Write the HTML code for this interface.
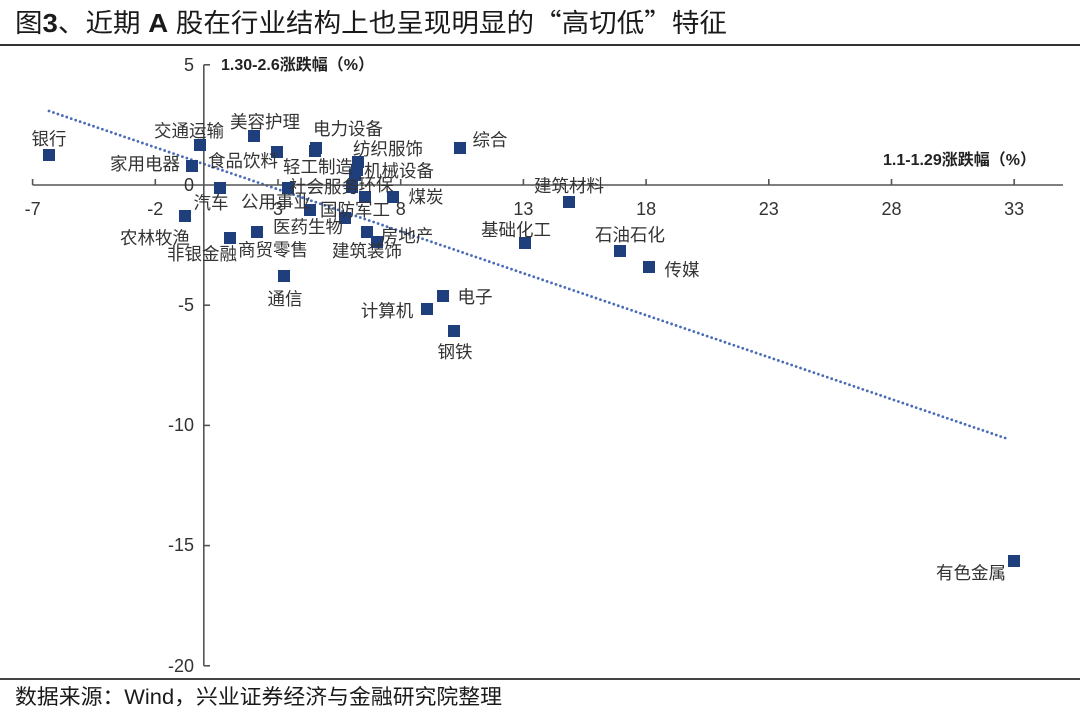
<!DOCTYPE html>
<html>
<head>
<meta charset="utf-8">
<style>
  html,body{margin:0;padding:0;background:#fff;}
  body{width:1080px;height:713px;overflow:hidden;}
  svg{display:block;}
  text{font-family:"Liberation Sans","Noto Sans CJK SC",sans-serif;}
</style>
</head>
<body>
<svg width="1080" height="713" viewBox="0 0 1080 713" xmlns="http://www.w3.org/2000/svg">
  <!-- Title -->
  <text x="15" y="32" font-size="26" fill="#1a1a1a" textLength="712" lengthAdjust="spacingAndGlyphs">图<tspan font-weight="bold">3</tspan>、近期 <tspan font-weight="bold">A</tspan> 股在行业结构上也呈现明显的<tspan font-family="Noto Sans CJK SC, sans-serif">“</tspan>高切低<tspan font-family="Noto Sans CJK SC, sans-serif">”</tspan>特征</text>
  <rect x="0" y="44" width="1080" height="2" fill="#333"/>

  <!-- Trendline -->
  <line x1="49" y1="111" x2="1008" y2="439" stroke="#4a6cb8" stroke-width="2.8" stroke-linecap="round" stroke-dasharray="0 4.7"/>

  <!-- Axes -->
  <g stroke="#555" stroke-width="1.6" fill="none">
    <line x1="32.6" y1="185" x2="1063" y2="185"/>
    <line x1="203.8" y1="64.8" x2="203.8" y2="665.8"/>
    <line x1="32.6" y1="179" x2="32.6" y2="185"/>
    <line x1="155.3" y1="179" x2="155.3" y2="185"/>
    <line x1="278" y1="179" x2="278" y2="185"/>
    <line x1="400.7" y1="179" x2="400.7" y2="185"/>
    <line x1="523.4" y1="179" x2="523.4" y2="185"/>
    <line x1="646.1" y1="179" x2="646.1" y2="185"/>
    <line x1="768.8" y1="179" x2="768.8" y2="185"/>
    <line x1="891.5" y1="179" x2="891.5" y2="185"/>
    <line x1="1014.2" y1="179" x2="1014.2" y2="185"/>
    <line x1="203.8" y1="64.8" x2="210" y2="64.8"/>
    <line x1="203.8" y1="305.2" x2="210" y2="305.2"/>
    <line x1="203.8" y1="425.4" x2="210" y2="425.4"/>
    <line x1="203.8" y1="545.6" x2="210" y2="545.6"/>
    <line x1="203.8" y1="665.8" x2="210" y2="665.8"/>
  </g>

  <!-- tick labels -->
  <g font-size="18" fill="#333" text-anchor="middle">
    <text x="32.6" y="215">-7</text>
    <text x="155.3" y="215">-2</text>
    <text x="278" y="215">3</text>
    <text x="400.7" y="215">8</text>
    <text x="523.4" y="215">13</text>
    <text x="646.1" y="215">18</text>
    <text x="768.8" y="215">23</text>
    <text x="891.5" y="215">28</text>
    <text x="1014.2" y="215">33</text>
  </g>
  <g font-size="18" fill="#333" text-anchor="end">
    <text x="194" y="71">5</text>
    <text x="194" y="191">0</text>
    <text x="194" y="311">-5</text>
    <text x="194" y="431">-10</text>
    <text x="194" y="551">-15</text>
    <text x="194" y="672">-20</text>
  </g>

  <!-- axis titles -->
  <text x="221" y="70" font-size="16" font-weight="bold" fill="#222">1.30-2.6涨跌幅（%）</text>
  <text x="883" y="165" font-size="16" font-weight="bold" fill="#222">1.1-1.29涨跌幅（%）</text>

  <!-- markers -->
  <g fill="#1f3e7c">
    <rect x="43" y="149" width="12" height="12"/>
    <rect x="194" y="139" width="12" height="12"/>
    <rect x="248" y="130" width="12" height="12"/>
    <rect x="186" y="160" width="12" height="12"/>
    <rect x="271" y="146" width="12" height="12"/>
    <rect x="310" y="142" width="12" height="12"/>
    <rect x="309" y="145" width="12" height="12"/>
    <rect x="352" y="156" width="12" height="12"/>
    <rect x="351" y="164" width="12" height="12"/>
    <rect x="349" y="169" width="12" height="12"/>
    <rect x="454" y="142" width="12" height="12"/>
    <rect x="214" y="182" width="12" height="12"/>
    <rect x="282" y="182" width="12" height="12"/>
    <rect x="346" y="181" width="12" height="12"/>
    <rect x="359" y="191" width="12" height="12"/>
    <rect x="387" y="191" width="12" height="12"/>
    <rect x="339" y="212" width="12" height="12"/>
    <rect x="304" y="204" width="12" height="12"/>
    <rect x="361" y="226" width="12" height="12"/>
    <rect x="371" y="236" width="12" height="12"/>
    <rect x="179" y="210" width="12" height="12"/>
    <rect x="224" y="232" width="12" height="12"/>
    <rect x="251" y="226" width="12" height="12"/>
    <rect x="278" y="270" width="12" height="12"/>
    <rect x="421" y="303" width="12" height="12"/>
    <rect x="437" y="290" width="12" height="12"/>
    <rect x="448" y="325" width="12" height="12"/>
    <rect x="563" y="196" width="12" height="12"/>
    <rect x="519" y="237" width="12" height="12"/>
    <rect x="614" y="245" width="12" height="12"/>
    <rect x="643" y="261" width="12" height="12"/>
    <rect x="1008" y="555" width="12" height="12"/>
  </g>

  <!-- data labels -->
  <g font-size="17.5" fill="#333" text-anchor="middle">
    <text x="49" y="145">银行</text>
    <text x="189" y="137">交通运输</text>
    <text x="265" y="128">美容护理</text>
    <text x="348" y="135">电力设备</text>
    <text x="388" y="155">纺织服饰</text>
    <text x="490" y="146">综合</text>
    <text x="145" y="170">家用电器</text>
    <text x="243" y="167">食品饮料</text>
    <text x="318" y="173">轻工制造</text>
    <text x="399" y="177">机械设备</text>
    <text x="324" y="193">社会服务</text>
    <text x="376" y="191">环保</text>
    <text x="426" y="203">煤炭</text>
    <text x="211" y="209">汽车</text>
    <text x="276" y="208">公用事业</text>
    <text x="355" y="216">国防军工</text>
    <text x="308" y="233">医药生物</text>
    <text x="407" y="242">房地产</text>
    <text x="367" y="257">建筑装饰</text>
    <text x="155" y="244">农林牧渔</text>
    <text x="202" y="260">非银金融</text>
    <text x="273" y="256">商贸零售</text>
    <text x="285" y="305">通信</text>
    <text x="387" y="317">计算机</text>
    <text x="475" y="303">电子</text>
    <text x="455" y="358">钢铁</text>
    <text x="569" y="192">建筑材料</text>
    <text x="516" y="236">基础化工</text>
    <text x="630" y="241">石油石化</text>
    <text x="682" y="276">传媒</text>
    <text x="971" y="579">有色金属</text>
  </g>

  <!-- footer -->
  <rect x="0" y="678" width="1080" height="2" fill="#444"/>
  <text x="15" y="704" font-size="21" fill="#1a1a1a" textLength="487" lengthAdjust="spacingAndGlyphs">数据来源：Wind，兴业证券经济与金融研究院整理</text>
</svg>
</body>
</html>
